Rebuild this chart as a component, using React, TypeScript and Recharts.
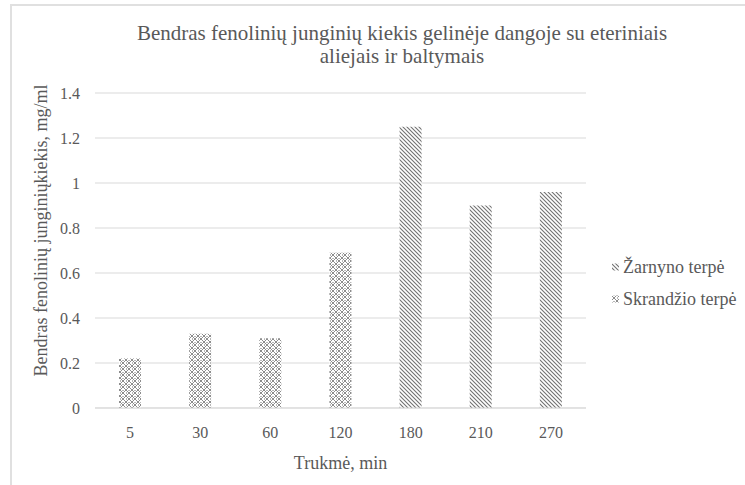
import React from "react";
import { Bar, BarChart, CartesianGrid, Label, XAxis, YAxis } from "recharts";

const categories = ["5", "30", "60", "120", "180", "210", "270"];
const zarnyno = [null, null, null, null, 1.25, 0.9, 0.96];
const skrandzio = [0.22, 0.33, 0.31, 0.69, null, null, null];
const yTicks = [0, 0.2, 0.4, 0.6, 0.8, 1, 1.2, 1.4];

const titleLines = [
  "Bendras fenolinių junginių kiekis gelinėje dangoje su eteriniais",
  "aliejais ir baltymais",
];
const seriesNames = ["Žarnyno terpė", "Skrandžio terpė"];
const yTitle = "Bendras fenolinių junginiųkiekis, mg/ml";
const xTitle = "Trukmė, min";

const data = categories.map((c, i) => ({
  name: c,
  zarnyno: zarnyno[i],
  skrandzio: skrandzio[i],
}));

const font = "'Liberation Serif', 'Times New Roman', serif";
const textGray = "#595959";
const gridGray = "#d9d9d9";
const fills = ["url(#zarnPat)", "url(#skrPat)"];

function Patterns() {
  return (
    <svg width="0" height="0" style={{ position: "absolute" }}>
      <defs>
        <pattern id="zarnPat" patternUnits="userSpaceOnUse" width="4" height="4">
          <rect width="4" height="4" fill="#fff" />
          <path d="M0,0 L4,4 M-1,3 L1,5 M3,-1 L5,1" stroke="#727272" strokeWidth="1.1" />
        </pattern>
        <pattern id="skrPat" patternUnits="userSpaceOnUse" width="6" height="6">
          <rect width="6" height="6" fill="#fff" />
          <path d="M0,0 L6,6 M6,0 L0,6" stroke="#8c8c8c" strokeWidth="1" />
          <rect x="2.5" y="0" width="1" height="1" fill="#6e6e6e" />
          <rect x="0" y="2.5" width="1" height="1" fill="#6e6e6e" />
        </pattern>
      </defs>
    </svg>
  );
}

function YTitle(props: any) {
  const vb = props.viewBox || { x: 0, y: 0, width: 0, height: 0 };
  const cx = vb.x + 41;
  const cy = vb.y + vb.height / 2 - 20;
  return (
    <text
      x={cx}
      y={cy}
      transform={`rotate(-90, ${cx}, ${cy})`}
      textAnchor="middle"
      dominantBaseline="central"
      fill={textGray}
      fontSize={18}
      fontFamily={font}
    >
      {yTitle}
    </text>
  );
}

export default function App() {
  return (
    <div
      style={{
        position: "absolute",
        left: 0,
        top: 0,
        width: 745,
        height: 485,
        overflow: "hidden",
        background: "#fff",
        fontFamily: font,
      }}
    >
      <style>{`.recharts-text { font-family: 'Liberation Serif', 'Times New Roman', serif; }`}</style>
      <Patterns />
      <div
        style={{
          position: "absolute",
          left: 10,
          top: 4,
          width: 800,
          height: 600,
          borderTop: "2px solid #e0e0e0",
          borderLeft: "2px solid #e0e0e0",
        }}
      />
      <div
        style={{
          position: "absolute",
          left: 102,
          width: 600,
          top: 22,
          textAlign: "center",
          fontSize: 21,
          lineHeight: "23px",
          color: textGray,
          whiteSpace: "nowrap",
        }}
      >
        {titleLines.map((l) => (
          <div key={l}>{l}</div>
        ))}
      </div>
      <BarChart
        width={745}
        height={485}
        data={data}
        margin={{ top: 93, right: 159, left: 0, bottom: 0 }}
        style={{ position: "absolute", left: 0, top: 0, fontFamily: font }}
      >
        <CartesianGrid vertical={false} stroke={gridGray} strokeWidth={1} />
        <XAxis
          dataKey="name"
          height={77}
          tickLine={false}
          axisLine={{ stroke: gridGray }}
          tickMargin={13}
          tick={{ fill: textGray, fontSize: 16, fontFamily: font }}
        >
          <Label
            value={xTitle}
            position="insideBottom"
            offset={16}
            fill={textGray}
            fontSize={18}
            fontFamily={font}
          />
        </XAxis>
        <YAxis
          width={95}
          domain={[0, 1.4]}
          ticks={yTicks}
          tickLine={false}
          axisLine={false}
          tickMargin={9}
          tick={{ fill: textGray, fontSize: 16, fontFamily: font }}
        >
          <Label content={<YTitle />} />
        </YAxis>
        <Bar
          dataKey="zarnyno"
          name={seriesNames[0]}
          stackId="a"
          barSize={22}
          fill={fills[0]}
          isAnimationActive={false}
        />
        <Bar
          dataKey="skrandzio"
          name={seriesNames[1]}
          stackId="a"
          barSize={22}
          fill={fills[1]}
          isAnimationActive={false}
        />
      </BarChart>
      <div
        style={{
          position: "absolute",
          left: 611,
          top: 251,
          fontSize: 18,
          color: textGray,
        }}
      >
        {seriesNames.map((n, i) => (
          <div key={n} style={{ display: "flex", alignItems: "center", height: 32, whiteSpace: "nowrap" }}>
            <svg width="12" height="8">
              <rect x="1" y="0.5" width="7" height="7" fill={fills[i]} />
            </svg>
            <span>{n}</span>
          </div>
        ))}
      </div>
    </div>
  );
}
